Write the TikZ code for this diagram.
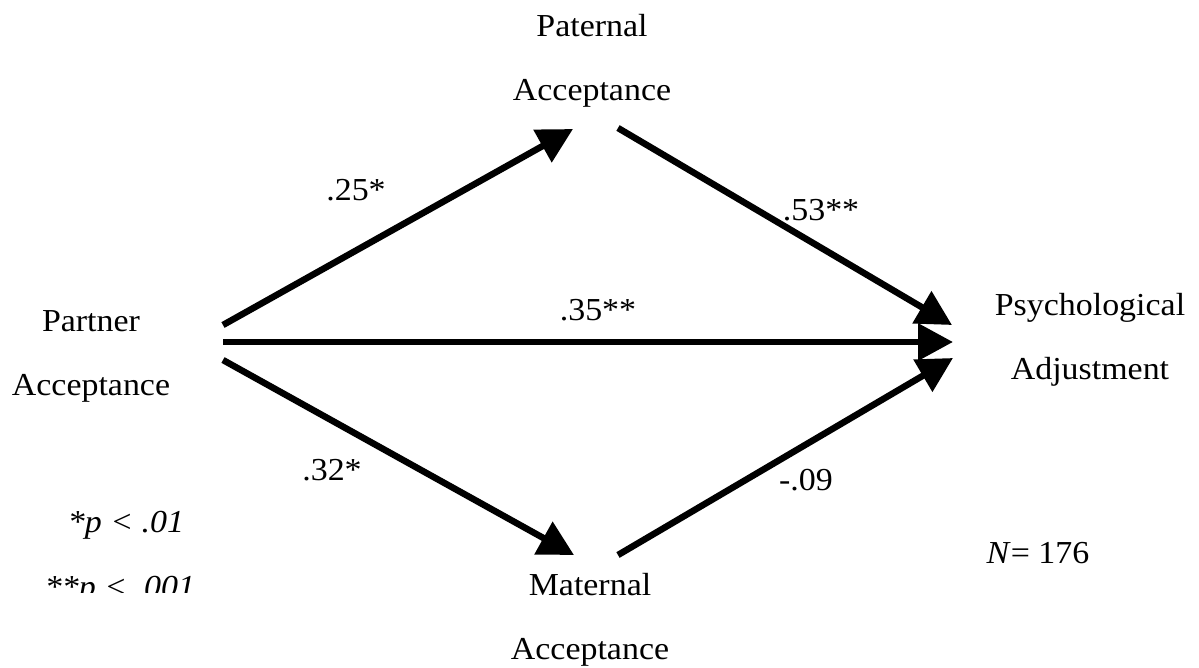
\documentclass[tikz,border=0pt]{standalone}
\usepackage{fontspec}
\setmainfont[FakeStretch=1.06]{Liberation Serif}
\usetikzlibrary{arrows.meta}

\tikzset{
  varbox/.style={align=center, inner sep=0pt, font=\fontsize{32}{64}\selectfont},
  coef/.style={inner sep=0pt, font=\fontsize{32}{36}\selectfont},
  path/.style={line width=6.5pt, -{Triangle[length=35pt,width=36pt]}},
}

\begin{document}
\begin{tikzpicture}[x=1pt, y=-1pt]
  \useasboundingbox (0,0) rectangle (1199,667);

  \node[varbox] (paternal) at (592,61) {Paternal\\Acceptance};
  \node[varbox] (partner) at (91,356) {Partner\\Acceptance};
  \node[varbox] (psych) at (1090,340) {Psychological\\Adjustment};
  \node[varbox] (maternal) at (590,620) {Maternal\\Acceptance};

  \coordinate (partnerU) at (223,325);
  \coordinate (partnerM) at (223,342);
  \coordinate (partnerD) at (223,360);
  \coordinate (paternalIn) at (573,129);
  \coordinate (paternalOut) at (618,128);
  \coordinate (maternalIn) at (574,555);
  \coordinate (maternalOut) at (618,555);
  \coordinate (psychU) at (952,325);
  \coordinate (psychM) at (953,342);
  \coordinate (psychD) at (953,358);

  \draw[path] (partnerU) -- (paternalIn);
  \draw[path] (paternalOut) -- (psychU);
  \draw[path] (partnerM) -- (psychM);
  \draw[path] (partnerD) -- (maternalIn);
  \draw[path] (maternalOut) -- (psychD);

  \node[coef] (bpa) at (356,190) {.25*};
  \node[coef] (bps) at (821,210) {.53**};
  \node[coef] (bdir) at (598,310) {.35**};
  \node[coef] (bma) at (332,470) {.32*};
  \node[coef] (bms) at (806,480) {-.09};

  \node[coef] (nsize) at (1038,553) {\textit{N}= 176};
  \node[coef, font=\fontsize{32}{36}\itshape] (sig1) at (126,525) {*p < .01};
  \begin{scope}
    \clip (0,560) rectangle (300,592);
    \node[coef, font=\fontsize{32}{36}\itshape] (sig2) at (120,590) {**p < .001};
  \end{scope}
\end{tikzpicture}
\end{document}
